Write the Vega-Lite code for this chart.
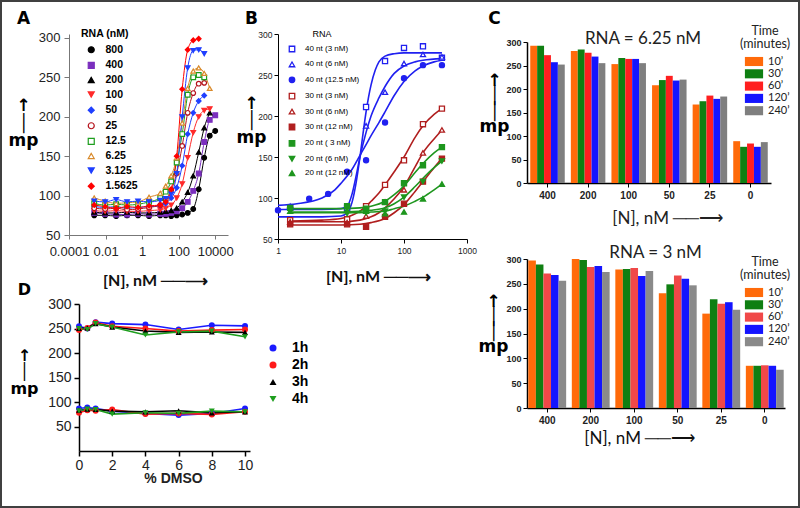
{
"$schema": "https://vega.github.io/schema/vega-lite/v6.json",
"width": 800, "height": 508,
"autosize": "none",
"padding": 0,
"background": "white",
"config": {"view": {"stroke": "#404040", "strokeWidth": 4}, "font": "Liberation Sans", "axis": {"grid": false, "domainColor": "#000", "tickColor": "#000", "labelColor": "#000", "titleColor": "#000", "labelFlush": false, "labelOverlap": false}, "legend": {"padding": 0}},
"title": {"text": "RNA =  6.25 nM", "anchor": "start", "frame": "group", "align": "center", "dx": 643, "offset": -48, "font": "Lato", "fontSize": 17, "fontWeight": "normal", "color": "#222"},
"datasets": {
"A": [
{"rna":"800","conc":0.0024,"mp":75},{"rna":"800","conc":0.0095,"mp":75},{"rna":"800","conc":0.038,"mp":74},{"rna":"800","conc":0.15,"mp":75},{"rna":"800","conc":0.6,"mp":75},{"rna":"800","conc":2.4,"mp":74},{"rna":"800","conc":9.8,"mp":75},{"rna":"800","conc":19.5,"mp":75},{"rna":"800","conc":39,"mp":74},{"rna":"800","conc":78,"mp":75},{"rna":"800","conc":156,"mp":76},{"rna":"800","conc":312,"mp":78},{"rna":"800","conc":625,"mp":83},{"rna":"800","conc":1250,"mp":108},{"rna":"800","conc":2500,"mp":148},{"rna":"800","conc":5000,"mp":176},{"rna":"800","conc":10000,"mp":182},
{"rna":"400","conc":0.0024,"mp":78},{"rna":"400","conc":0.0095,"mp":77},{"rna":"400","conc":0.038,"mp":76},{"rna":"400","conc":0.15,"mp":76},{"rna":"400","conc":0.6,"mp":77},{"rna":"400","conc":2.4,"mp":76},{"rna":"400","conc":9.8,"mp":77},{"rna":"400","conc":19.5,"mp":77},{"rna":"400","conc":39,"mp":78},{"rna":"400","conc":78,"mp":80},{"rna":"400","conc":156,"mp":84},{"rna":"400","conc":312,"mp":92},{"rna":"400","conc":625,"mp":106},{"rna":"400","conc":1250,"mp":128},{"rna":"400","conc":2500,"mp":168},{"rna":"400","conc":5000,"mp":196},{"rna":"400","conc":10000,"mp":202},
{"rna":"200","conc":0.0024,"mp":79},{"rna":"200","conc":0.0095,"mp":78},{"rna":"200","conc":0.038,"mp":78},{"rna":"200","conc":0.15,"mp":79},{"rna":"200","conc":0.6,"mp":78},{"rna":"200","conc":2.4,"mp":78},{"rna":"200","conc":9.8,"mp":79},{"rna":"200","conc":19.5,"mp":80},{"rna":"200","conc":39,"mp":81},{"rna":"200","conc":78,"mp":84},{"rna":"200","conc":156,"mp":92},{"rna":"200","conc":312,"mp":104},{"rna":"200","conc":625,"mp":125},{"rna":"200","conc":1250,"mp":155},{"rna":"200","conc":2500,"mp":186},{"rna":"200","conc":5000,"mp":205},
{"rna":"100","conc":0.0024,"mp":81},{"rna":"100","conc":0.0095,"mp":80},{"rna":"100","conc":0.038,"mp":81},{"rna":"100","conc":0.15,"mp":80},{"rna":"100","conc":0.6,"mp":80},{"rna":"100","conc":2.4,"mp":81},{"rna":"100","conc":9.8,"mp":82},{"rna":"100","conc":19.5,"mp":84},{"rna":"100","conc":39,"mp":88},{"rna":"100","conc":78,"mp":97},{"rna":"100","conc":156,"mp":115},{"rna":"100","conc":312,"mp":148},{"rna":"100","conc":625,"mp":180},{"rna":"100","conc":1250,"mp":200},{"rna":"100","conc":2500,"mp":208},{"rna":"100","conc":5000,"mp":210},
{"rna":"50","conc":0.0024,"mp":86},{"rna":"50","conc":0.0095,"mp":85},{"rna":"50","conc":0.038,"mp":86},{"rna":"50","conc":0.15,"mp":84},{"rna":"50","conc":0.6,"mp":85},{"rna":"50","conc":2.4,"mp":86},{"rna":"50","conc":9.8,"mp":87},{"rna":"50","conc":19.5,"mp":90},{"rna":"50","conc":39,"mp":97},{"rna":"50","conc":78,"mp":110},{"rna":"50","conc":156,"mp":138},{"rna":"50","conc":312,"mp":178},{"rna":"50","conc":625,"mp":205},{"rna":"50","conc":1250,"mp":220},{"rna":"50","conc":2500,"mp":227},
{"rna":"25","conc":0.0024,"mp":84},{"rna":"25","conc":0.0095,"mp":83},{"rna":"25","conc":0.038,"mp":84},{"rna":"25","conc":0.15,"mp":82},{"rna":"25","conc":0.6,"mp":83},{"rna":"25","conc":2.4,"mp":85},{"rna":"25","conc":9.8,"mp":88},{"rna":"25","conc":19.5,"mp":95},{"rna":"25","conc":39,"mp":107},{"rna":"25","conc":78,"mp":128},{"rna":"25","conc":156,"mp":163},{"rna":"25","conc":312,"mp":205},{"rna":"25","conc":625,"mp":230},{"rna":"25","conc":1250,"mp":242},{"rna":"25","conc":2500,"mp":243},
{"rna":"12.5","conc":0.0024,"mp":90},{"rna":"12.5","conc":0.0095,"mp":88},{"rna":"12.5","conc":0.038,"mp":89},{"rna":"12.5","conc":0.15,"mp":88},{"rna":"12.5","conc":0.6,"mp":89},{"rna":"12.5","conc":2.4,"mp":92},{"rna":"12.5","conc":9.8,"mp":97},{"rna":"12.5","conc":19.5,"mp":105},{"rna":"12.5","conc":39,"mp":118},{"rna":"12.5","conc":78,"mp":142},{"rna":"12.5","conc":156,"mp":178},{"rna":"12.5","conc":312,"mp":228},{"rna":"12.5","conc":625,"mp":250},{"rna":"12.5","conc":1250,"mp":253},{"rna":"12.5","conc":2500,"mp":250},
{"rna":"6.25","conc":0.0024,"mp":97},{"rna":"6.25","conc":0.0095,"mp":93},{"rna":"6.25","conc":0.038,"mp":90},{"rna":"6.25","conc":0.15,"mp":91},{"rna":"6.25","conc":0.6,"mp":92},{"rna":"6.25","conc":2.4,"mp":98},{"rna":"6.25","conc":9.8,"mp":103},{"rna":"6.25","conc":19.5,"mp":112},{"rna":"6.25","conc":39,"mp":125},{"rna":"6.25","conc":78,"mp":148},{"rna":"6.25","conc":156,"mp":192},{"rna":"6.25","conc":312,"mp":236},{"rna":"6.25","conc":625,"mp":258},{"rna":"6.25","conc":1250,"mp":262},{"rna":"6.25","conc":2500,"mp":255},{"rna":"6.25","conc":5000,"mp":236},
{"rna":"3.125","conc":0.0024,"mp":93},{"rna":"3.125","conc":0.0095,"mp":92},{"rna":"3.125","conc":0.038,"mp":95},{"rna":"3.125","conc":0.15,"mp":92},{"rna":"3.125","conc":0.6,"mp":93},{"rna":"3.125","conc":2.4,"mp":92},{"rna":"3.125","conc":9.8,"mp":94},{"rna":"3.125","conc":19.5,"mp":96},{"rna":"3.125","conc":39,"mp":102},{"rna":"3.125","conc":78,"mp":128},{"rna":"3.125","conc":156,"mp":200},{"rna":"3.125","conc":312,"mp":262},{"rna":"3.125","conc":625,"mp":284},{"rna":"3.125","conc":1250,"mp":285},{"rna":"3.125","conc":2500,"mp":280},
{"rna":"1.5625","conc":0.0024,"mp":88},{"rna":"1.5625","conc":0.0095,"mp":86},{"rna":"1.5625","conc":0.038,"mp":84},{"rna":"1.5625","conc":0.15,"mp":86},{"rna":"1.5625","conc":0.6,"mp":85},{"rna":"1.5625","conc":2.4,"mp":87},{"rna":"1.5625","conc":9.8,"mp":88},{"rna":"1.5625","conc":19.5,"mp":92},{"rna":"1.5625","conc":39,"mp":108},{"rna":"1.5625","conc":78,"mp":150},{"rna":"1.5625","conc":156,"mp":235},{"rna":"1.5625","conc":312,"mp":285},{"rna":"1.5625","conc":625,"mp":297},{"rna":"1.5625","conc":1250,"mp":299}
],
"Bpts": [
{"probe":"40 nt (3 nM)","conc":1.56,"mp":88},{"probe":"40 nt (3 nM)","conc":12.5,"mp":88},{"probe":"40 nt (3 nM)","conc":25,"mp":211},{"probe":"40 nt (3 nM)","conc":50,"mp":267},{"probe":"40 nt (3 nM)","conc":100,"mp":283},{"probe":"40 nt (3 nM)","conc":200,"mp":285},{"probe":"40 nt (3 nM)","conc":400,"mp":271},
{"probe":"40 nt (6 nM)","conc":1.56,"mp":90},{"probe":"40 nt (6 nM)","conc":12.5,"mp":90},{"probe":"40 nt (6 nM)","conc":25,"mp":188},{"probe":"40 nt (6 nM)","conc":50,"mp":229},{"probe":"40 nt (6 nM)","conc":100,"mp":264},{"probe":"40 nt (6 nM)","conc":200,"mp":275},{"probe":"40 nt (6 nM)","conc":400,"mp":272},
{"probe":"40 nt (12.5 nM)","conc":1,"mp":85},{"probe":"40 nt (12.5 nM)","conc":3.125,"mp":99},{"probe":"40 nt (12.5 nM)","conc":6.25,"mp":105},{"probe":"40 nt (12.5 nM)","conc":12.5,"mp":132},{"probe":"40 nt (12.5 nM)","conc":25,"mp":146},{"probe":"40 nt (12.5 nM)","conc":50,"mp":192},{"probe":"40 nt (12.5 nM)","conc":100,"mp":246},{"probe":"40 nt (12.5 nM)","conc":200,"mp":262},{"probe":"40 nt (12.5 nM)","conc":400,"mp":262},
{"probe":"30 nt (3 nM)","conc":1.56,"mp":73},{"probe":"30 nt (3 nM)","conc":12.5,"mp":74},{"probe":"30 nt (3 nM)","conc":25,"mp":90},{"probe":"30 nt (3 nM)","conc":50,"mp":116},{"probe":"30 nt (3 nM)","conc":100,"mp":146},{"probe":"30 nt (3 nM)","conc":200,"mp":190},{"probe":"30 nt (3 nM)","conc":400,"mp":209},
{"probe":"30 nt (6 nM)","conc":1.56,"mp":71},{"probe":"30 nt (6 nM)","conc":12.5,"mp":70},{"probe":"30 nt (6 nM)","conc":25,"mp":78},{"probe":"30 nt (6 nM)","conc":50,"mp":95},{"probe":"30 nt (6 nM)","conc":100,"mp":110},{"probe":"30 nt (6 nM)","conc":200,"mp":155},{"probe":"30 nt (6 nM)","conc":400,"mp":183},
{"probe":"30 nt (12 nM)","conc":1.56,"mp":68},{"probe":"30 nt (12 nM)","conc":12.5,"mp":68},{"probe":"30 nt (12 nM)","conc":25,"mp":65},{"probe":"30 nt (12 nM)","conc":50,"mp":77},{"probe":"30 nt (12 nM)","conc":100,"mp":93},{"probe":"30 nt (12 nM)","conc":200,"mp":120},{"probe":"30 nt (12 nM)","conc":400,"mp":148},
{"probe":"20 nt ( 3 nM)","conc":1.56,"mp":88},{"probe":"20 nt ( 3 nM)","conc":12.5,"mp":90},{"probe":"20 nt ( 3 nM)","conc":25,"mp":87},{"probe":"20 nt ( 3 nM)","conc":50,"mp":95},{"probe":"20 nt ( 3 nM)","conc":100,"mp":118},{"probe":"20 nt ( 3 nM)","conc":200,"mp":140},{"probe":"20 nt ( 3 nM)","conc":400,"mp":162},
{"probe":"20 nt (6 nM)","conc":1.56,"mp":85},{"probe":"20 nt (6 nM)","conc":12.5,"mp":81},{"probe":"20 nt (6 nM)","conc":25,"mp":82},{"probe":"20 nt (6 nM)","conc":50,"mp":84},{"probe":"20 nt (6 nM)","conc":100,"mp":101},{"probe":"20 nt (6 nM)","conc":200,"mp":120},{"probe":"20 nt (6 nM)","conc":400,"mp":145},
{"probe":"20 nt (12 nM)","conc":1.56,"mp":84},{"probe":"20 nt (12 nM)","conc":12.5,"mp":85},{"probe":"20 nt (12 nM)","conc":25,"mp":84},{"probe":"20 nt (12 nM)","conc":50,"mp":81},{"probe":"20 nt (12 nM)","conc":100,"mp":83},{"probe":"20 nt (12 nM)","conc":200,"mp":99},{"probe":"20 nt (12 nM)","conc":400,"mp":117}
],
"Bfit": [
{"probe":"40 nt (3 nM)","conc":1,"mp":77},{"probe":"40 nt (3 nM)","conc":5,"mp":77},{"probe":"40 nt (3 nM)","conc":10,"mp":78},{"probe":"40 nt (3 nM)","conc":12.5,"mp":82},{"probe":"40 nt (3 nM)","conc":15,"mp":95},{"probe":"40 nt (3 nM)","conc":17.5,"mp":120},{"probe":"40 nt (3 nM)","conc":20,"mp":150},{"probe":"40 nt (3 nM)","conc":22.5,"mp":180},{"probe":"40 nt (3 nM)","conc":25,"mp":205},{"probe":"40 nt (3 nM)","conc":30,"mp":238},{"probe":"40 nt (3 nM)","conc":35,"mp":256},{"probe":"40 nt (3 nM)","conc":40,"mp":266},{"probe":"40 nt (3 nM)","conc":50,"mp":273},{"probe":"40 nt (3 nM)","conc":70,"mp":276},{"probe":"40 nt (3 nM)","conc":100,"mp":277},{"probe":"40 nt (3 nM)","conc":400,"mp":277},
{"probe":"40 nt (6 nM)","conc":1,"mp":86},{"probe":"40 nt (6 nM)","conc":5,"mp":86},{"probe":"40 nt (6 nM)","conc":10,"mp":87},{"probe":"40 nt (6 nM)","conc":12.5,"mp":90},{"probe":"40 nt (6 nM)","conc":15,"mp":105},{"probe":"40 nt (6 nM)","conc":17.5,"mp":128},{"probe":"40 nt (6 nM)","conc":20,"mp":150},{"probe":"40 nt (6 nM)","conc":25,"mp":180},{"probe":"40 nt (6 nM)","conc":30,"mp":200},{"probe":"40 nt (6 nM)","conc":40,"mp":222},{"probe":"40 nt (6 nM)","conc":50,"mp":236},{"probe":"40 nt (6 nM)","conc":70,"mp":252},{"probe":"40 nt (6 nM)","conc":100,"mp":261},{"probe":"40 nt (6 nM)","conc":150,"mp":266},{"probe":"40 nt (6 nM)","conc":200,"mp":268},{"probe":"40 nt (6 nM)","conc":400,"mp":270},
{"probe":"40 nt (12.5 nM)","conc":1,"mp":91},{"probe":"40 nt (12.5 nM)","conc":2,"mp":93},{"probe":"40 nt (12.5 nM)","conc":5,"mp":100},{"probe":"40 nt (12.5 nM)","conc":8,"mp":110},{"probe":"40 nt (12.5 nM)","conc":10,"mp":118},{"probe":"40 nt (12.5 nM)","conc":15,"mp":135},{"probe":"40 nt (12.5 nM)","conc":20,"mp":152},{"probe":"40 nt (12.5 nM)","conc":25,"mp":165},{"probe":"40 nt (12.5 nM)","conc":30,"mp":176},{"probe":"40 nt (12.5 nM)","conc":40,"mp":192},{"probe":"40 nt (12.5 nM)","conc":50,"mp":205},{"probe":"40 nt (12.5 nM)","conc":70,"mp":225},{"probe":"40 nt (12.5 nM)","conc":100,"mp":242},{"probe":"40 nt (12.5 nM)","conc":150,"mp":255},{"probe":"40 nt (12.5 nM)","conc":200,"mp":261},{"probe":"40 nt (12.5 nM)","conc":300,"mp":266},{"probe":"40 nt (12.5 nM)","conc":400,"mp":268},
{"probe":"30 nt (3 nM)","conc":1.56,"mp":72},{"probe":"30 nt (3 nM)","conc":5,"mp":73},{"probe":"30 nt (3 nM)","conc":10,"mp":75},{"probe":"30 nt (3 nM)","conc":15,"mp":79},{"probe":"30 nt (3 nM)","conc":20,"mp":84},{"probe":"30 nt (3 nM)","conc":25,"mp":90},{"probe":"30 nt (3 nM)","conc":30,"mp":96},{"probe":"30 nt (3 nM)","conc":40,"mp":106},{"probe":"30 nt (3 nM)","conc":50,"mp":116},{"probe":"30 nt (3 nM)","conc":70,"mp":132},{"probe":"30 nt (3 nM)","conc":100,"mp":150},{"probe":"30 nt (3 nM)","conc":150,"mp":174},{"probe":"30 nt (3 nM)","conc":200,"mp":188},{"probe":"30 nt (3 nM)","conc":300,"mp":202},{"probe":"30 nt (3 nM)","conc":400,"mp":209},
{"probe":"30 nt (6 nM)","conc":1.56,"mp":71},{"probe":"30 nt (6 nM)","conc":10,"mp":71},{"probe":"30 nt (6 nM)","conc":20,"mp":73},{"probe":"30 nt (6 nM)","conc":30,"mp":77},{"probe":"30 nt (6 nM)","conc":40,"mp":82},{"probe":"30 nt (6 nM)","conc":50,"mp":88},{"probe":"30 nt (6 nM)","conc":70,"mp":99},{"probe":"30 nt (6 nM)","conc":100,"mp":114},{"probe":"30 nt (6 nM)","conc":150,"mp":138},{"probe":"30 nt (6 nM)","conc":200,"mp":155},{"probe":"30 nt (6 nM)","conc":300,"mp":172},{"probe":"30 nt (6 nM)","conc":400,"mp":183},
{"probe":"30 nt (12 nM)","conc":1.56,"mp":67},{"probe":"30 nt (12 nM)","conc":10,"mp":67},{"probe":"30 nt (12 nM)","conc":20,"mp":68},{"probe":"30 nt (12 nM)","conc":30,"mp":70},{"probe":"30 nt (12 nM)","conc":50,"mp":75},{"probe":"30 nt (12 nM)","conc":70,"mp":82},{"probe":"30 nt (12 nM)","conc":100,"mp":92},{"probe":"30 nt (12 nM)","conc":150,"mp":108},{"probe":"30 nt (12 nM)","conc":200,"mp":120},{"probe":"30 nt (12 nM)","conc":300,"mp":137},{"probe":"30 nt (12 nM)","conc":400,"mp":148},
{"probe":"20 nt ( 3 nM)","conc":1.56,"mp":87},{"probe":"20 nt ( 3 nM)","conc":10,"mp":87},{"probe":"20 nt ( 3 nM)","conc":20,"mp":88},{"probe":"20 nt ( 3 nM)","conc":30,"mp":90},{"probe":"20 nt ( 3 nM)","conc":50,"mp":96},{"probe":"20 nt ( 3 nM)","conc":70,"mp":104},{"probe":"20 nt ( 3 nM)","conc":100,"mp":115},{"probe":"20 nt ( 3 nM)","conc":150,"mp":131},{"probe":"20 nt ( 3 nM)","conc":200,"mp":142},{"probe":"20 nt ( 3 nM)","conc":300,"mp":155},{"probe":"20 nt ( 3 nM)","conc":400,"mp":162},
{"probe":"20 nt (6 nM)","conc":1.56,"mp":83},{"probe":"20 nt (6 nM)","conc":10,"mp":83},{"probe":"20 nt (6 nM)","conc":20,"mp":84},{"probe":"20 nt (6 nM)","conc":30,"mp":85},{"probe":"20 nt (6 nM)","conc":50,"mp":88},{"probe":"20 nt (6 nM)","conc":70,"mp":93},{"probe":"20 nt (6 nM)","conc":100,"mp":101},{"probe":"20 nt (6 nM)","conc":150,"mp":114},{"probe":"20 nt (6 nM)","conc":200,"mp":124},{"probe":"20 nt (6 nM)","conc":300,"mp":137},{"probe":"20 nt (6 nM)","conc":400,"mp":145},
{"probe":"20 nt (12 nM)","conc":1.56,"mp":82},{"probe":"20 nt (12 nM)","conc":10,"mp":82},{"probe":"20 nt (12 nM)","conc":20,"mp":82},{"probe":"20 nt (12 nM)","conc":30,"mp":83},{"probe":"20 nt (12 nM)","conc":50,"mp":84},{"probe":"20 nt (12 nM)","conc":70,"mp":87},{"probe":"20 nt (12 nM)","conc":100,"mp":90},{"probe":"20 nt (12 nM)","conc":150,"mp":96},{"probe":"20 nt (12 nM)","conc":200,"mp":101},{"probe":"20 nt (12 nM)","conc":300,"mp":110},{"probe":"20 nt (12 nM)","conc":400,"mp":117}
],
"C6": [
{"n":"400","t":"10’","mp":292},{"n":"400","t":"30’","mp":292},{"n":"400","t":"60’","mp":272},{"n":"400","t":"120’","mp":257},{"n":"400","t":"240’","mp":252},
{"n":"200","t":"10’","mp":281},{"n":"200","t":"30’","mp":284},{"n":"200","t":"60’","mp":277},{"n":"200","t":"120’","mp":269},{"n":"200","t":"240’","mp":255},
{"n":"100","t":"10’","mp":253},{"n":"100","t":"30’","mp":266},{"n":"100","t":"60’","mp":264},{"n":"100","t":"120’","mp":264},{"n":"100","t":"240’","mp":255},
{"n":"50","t":"10’","mp":208},{"n":"50","t":"30’","mp":219},{"n":"50","t":"60’","mp":228},{"n":"50","t":"120’","mp":218},{"n":"50","t":"240’","mp":220},
{"n":"25","t":"10’","mp":167},{"n":"25","t":"30’","mp":174},{"n":"25","t":"60’","mp":186},{"n":"25","t":"120’","mp":179},{"n":"25","t":"240’","mp":184},
{"n":"0","t":"10’","mp":89},{"n":"0","t":"30’","mp":77},{"n":"0","t":"60’","mp":84},{"n":"0","t":"120’","mp":77},{"n":"0","t":"240’","mp":87}
],
"C3": [
{"n":"400","t":"10’","mp":297},{"n":"400","t":"30’","mp":289},{"n":"400","t":"60’","mp":271},{"n":"400","t":"120’","mp":268},{"n":"400","t":"240’","mp":256},
{"n":"200","t":"10’","mp":300},{"n":"200","t":"30’","mp":298},{"n":"200","t":"60’","mp":284},{"n":"200","t":"120’","mp":286},{"n":"200","t":"240’","mp":274},
{"n":"100","t":"10’","mp":279},{"n":"100","t":"30’","mp":280},{"n":"100","t":"60’","mp":282},{"n":"100","t":"120’","mp":266},{"n":"100","t":"240’","mp":276},
{"n":"50","t":"10’","mp":231},{"n":"50","t":"30’","mp":249},{"n":"50","t":"60’","mp":267},{"n":"50","t":"120’","mp":260},{"n":"50","t":"240’","mp":247},
{"n":"25","t":"10’","mp":190},{"n":"25","t":"30’","mp":219},{"n":"25","t":"60’","mp":210},{"n":"25","t":"120’","mp":213},{"n":"25","t":"240’","mp":198},
{"n":"0","t":"10’","mp":85},{"n":"0","t":"30’","mp":85},{"n":"0","t":"60’","mp":86},{"n":"0","t":"120’","mp":85},{"n":"0","t":"240’","mp":77}
],
"D": [
{"time":"1h","level":"hi","dmso":0,"mp":254.7},{"time":"1h","level":"hi","dmso":0.5,"mp":250},{"time":"1h","level":"hi","dmso":1,"mp":263},{"time":"1h","level":"hi","dmso":2,"mp":260},{"time":"1h","level":"hi","dmso":4,"mp":258},{"time":"1h","level":"hi","dmso":6,"mp":248},{"time":"1h","level":"hi","dmso":8,"mp":256.7},{"time":"1h","level":"hi","dmso":10,"mp":255.3},
{"time":"2h","level":"hi","dmso":0,"mp":246.7},{"time":"2h","level":"hi","dmso":0.5,"mp":251},{"time":"2h","level":"hi","dmso":1,"mp":262},{"time":"2h","level":"hi","dmso":2,"mp":254.7},{"time":"2h","level":"hi","dmso":4,"mp":250},{"time":"2h","level":"hi","dmso":6,"mp":244.7},{"time":"2h","level":"hi","dmso":8,"mp":246.7},{"time":"2h","level":"hi","dmso":10,"mp":248},
{"time":"3h","level":"hi","dmso":0,"mp":250},{"time":"3h","level":"hi","dmso":0.5,"mp":251},{"time":"3h","level":"hi","dmso":1,"mp":260},{"time":"3h","level":"hi","dmso":2,"mp":253},{"time":"3h","level":"hi","dmso":4,"mp":245},{"time":"3h","level":"hi","dmso":6,"mp":242},{"time":"3h","level":"hi","dmso":8,"mp":243},{"time":"3h","level":"hi","dmso":10,"mp":242},
{"time":"4h","level":"hi","dmso":0,"mp":250},{"time":"4h","level":"hi","dmso":0.5,"mp":248},{"time":"4h","level":"hi","dmso":1,"mp":260},{"time":"4h","level":"hi","dmso":2,"mp":253},{"time":"4h","level":"hi","dmso":4,"mp":236.7},{"time":"4h","level":"hi","dmso":6,"mp":243},{"time":"4h","level":"hi","dmso":8,"mp":244.7},{"time":"4h","level":"hi","dmso":10,"mp":233},
{"time":"1h","level":"lo","dmso":0,"mp":86.7},{"time":"1h","level":"lo","dmso":0.5,"mp":88.7},{"time":"1h","level":"lo","dmso":1,"mp":86.7},{"time":"1h","level":"lo","dmso":2,"mp":81.3},{"time":"1h","level":"lo","dmso":4,"mp":76.7},{"time":"1h","level":"lo","dmso":6,"mp":73.3},{"time":"1h","level":"lo","dmso":8,"mp":76.7},{"time":"1h","level":"lo","dmso":10,"mp":86.7},
{"time":"2h","level":"lo","dmso":0,"mp":78},{"time":"2h","level":"lo","dmso":0.5,"mp":83.3},{"time":"2h","level":"lo","dmso":1,"mp":82},{"time":"2h","level":"lo","dmso":2,"mp":84.7},{"time":"2h","level":"lo","dmso":4,"mp":75.3},{"time":"2h","level":"lo","dmso":6,"mp":76.7},{"time":"2h","level":"lo","dmso":8,"mp":74.7},{"time":"2h","level":"lo","dmso":10,"mp":80},
{"time":"3h","level":"lo","dmso":0,"mp":83.3},{"time":"3h","level":"lo","dmso":0.5,"mp":85.3},{"time":"3h","level":"lo","dmso":1,"mp":84.7},{"time":"3h","level":"lo","dmso":2,"mp":81.3},{"time":"3h","level":"lo","dmso":4,"mp":80},{"time":"3h","level":"lo","dmso":6,"mp":82},{"time":"3h","level":"lo","dmso":8,"mp":78},{"time":"3h","level":"lo","dmso":10,"mp":80},
{"time":"4h","level":"lo","dmso":0,"mp":82},{"time":"4h","level":"lo","dmso":0.5,"mp":85.3},{"time":"4h","level":"lo","dmso":1,"mp":84.7},{"time":"4h","level":"lo","dmso":2,"mp":75.3},{"time":"4h","level":"lo","dmso":4,"mp":78},{"time":"4h","level":"lo","dmso":6,"mp":76.7},{"time":"4h","level":"lo","dmso":8,"mp":81.3},{"time":"4h","level":"lo","dmso":10,"mp":80}
]
},
"resolve": {"scale": {"x": "independent", "y": "independent", "color": "independent", "stroke": "independent", "fill": "independent", "shape": "independent", "xOffset": "independent"}, "axis": {"x": "independent", "y": "independent"}, "legend": {"color": "independent", "stroke": "independent", "fill": "independent", "shape": "independent"}},
"layer": [
{
"data": {"name": "A"},
"encoding": {
"x": {"field": "conc", "type": "quantitative", "scale": {"type": "log", "domain": [0.0001, 50000], "range": [69, 228], "nice": false},
 "axis": {"orient": "bottom", "offset": -273, "values": [0.0001, 0.01, 1, 100, 10000], "format": "~g", "labelFontSize": 13, "labelPadding": 6, "tickSize": 4, "domainColor": "#777", "tickColor": "#777", "labelColor": "#222",
  "title": "[N], nM ──⟶", "titleFont": "Lato", "titleFontSize": 16, "titleFontWeight": "bold", "titleX": 155, "titleY": 50, "titleBaseline": "alphabetic", "titleColor": "#111"}},
"y": {"field": "mp", "type": "quantitative", "scale": {"domain": [50, 305], "range": [235, 34], "nice": false, "zero": false},
 "axis": {"orient": "left", "offset": -69, "values": [50, 100, 150, 200, 250, 300], "labelFontSize": 13, "labelPadding": 4, "tickSize": 5, "domainColor": "#777", "tickColor": "#777", "labelColor": "#222",
  "title": ["A", "\u2800", "\u2800", "\u2800", "\u2800", "↑", "│", "mp"], "titleAngle": 0, "titleX": -46, "titleY": 10, "titleAlign": "center", "titleBaseline": "top", "titleFont": "DejaVu Sans", "titleFontSize": 17, "titleFontWeight": "bold", "titleLineHeight": 17.5}}
},
"layer": [
{"mark": {"type": "line", "interpolate": "monotone", "strokeWidth": 1},
 "encoding": {"stroke": {"field": "rna", "type": "nominal", "scale": {"range": ["#FF0000","#FF2A2A","#1E9E1E","#000000","#B5121B","#1F3FFF","#7B2FBE","#1F3FFF","#D98A2B","#000000"]}, "legend": null}}},
{"mark": {"type": "point", "size": 22, "strokeWidth": 1.2, "opacity": 1},
 "encoding": {
  "color": {"field": "rna", "type": "nominal", "scale": {"domain": ["800","400","200","100","50","25","12.5","6.25","3.125","1.5625"], "range": ["#000000","#7B2FBE","#000000","#FF2A2A","#1F3FFF","#B5121B","#1E9E1E","#D98A2B","#1F3FFF","#FF0000"]},
   "legend": {"title": "RNA (nM)", "orient": "none", "legendX": 81, "legendY": 29, "padding": 0, "titleFontSize": 10.5, "titleFontWeight": "bold", "titlePadding": 5, "labelFontSize": 10.5, "labelFontWeight": "bold", "labelOffset": 9, "symbolSize": 36, "symbolStrokeWidth": 1.2, "symbolOffset": 5, "rowPadding": 3.6}},
  "fill": {"field": "rna", "type": "nominal", "scale": {"domain": ["800","400","200","100","50","25","12.5","6.25","3.125","1.5625"], "range": ["#000000","#7B2FBE","#000000","#FF2A2A","#1F3FFF","#FFFFFF","#FFFFFF","#FFFFFF","#1F3FFF","#FF0000"]}, "legend": null},
  "shape": {"field": "rna", "type": "nominal", "scale": {"domain": ["800","400","200","100","50","25","12.5","6.25","3.125","1.5625"], "range": ["circle","square","triangle-up","triangle-down","diamond","circle","square","triangle-up","triangle-down","diamond"]}, "legend": null}
 }}
]
},
{
"encoding": {
"x": {"field": "conc", "type": "quantitative", "scale": {"type": "log", "domain": [1, 1000], "range": [278, 467], "nice": false},
 "axis": {"orient": "bottom", "offset": -269, "values": [1, 10, 100, 1000], "format": "~g", "labelFontSize": 8.5, "labelPadding": 3, "tickSize": 4, "labelColor": "#222",
  "title": "[N], nM ──⟶", "titleFont": "Lato", "titleFontSize": 16, "titleFontWeight": "bold", "titleX": 378, "titleY": 42, "titleBaseline": "alphabetic", "titleColor": "#111"}},
"y": {"field": "mp", "type": "quantitative", "scale": {"domain": [50, 300], "range": [239, 34], "nice": false, "zero": false},
 "axis": {"orient": "left", "offset": -278, "values": [50, 100, 150, 200, 250, 300], "labelFontSize": 8.5, "labelPadding": 2, "tickSize": 4, "labelColor": "#222",
  "title": ["B", "\u2800", "\u2800", "\u2800", "\u2800", "↑", "│", "mp"], "titleAngle": 0, "titleX": -27, "titleY": 10, "titleAlign": "center", "titleBaseline": "top", "titleFont": "DejaVu Sans", "titleFontSize": 17, "titleFontWeight": "bold", "titleLineHeight": 17}}
},
"layer": [
{"data": {"name": "Bfit"}, "mark": {"type": "line", "interpolate": "monotone", "strokeWidth": 1.6},
 "encoding": {"stroke": {"field": "probe", "type": "nominal", "scale": {"range": ["#1E961E","#1E961E","#1E961E","#B01E1E","#B01E1E","#B01E1E","#2020F0","#2020F0","#2020F0"]}, "legend": null}}},
{"data": {"name": "Bpts"}, "mark": {"type": "point", "size": 26, "strokeWidth": 1.3, "opacity": 1},
 "encoding": {
  "color": {"field": "probe", "type": "nominal", "scale": {"domain": ["40 nt (3 nM)","40 nt (6 nM)","40 nt (12.5 nM)","30 nt (3 nM)","30 nt (6 nM)","30 nt (12 nM)","20 nt ( 3 nM)","20 nt (6 nM)","20 nt (12 nM)"], "range": ["#2020F0","#2020F0","#2020F0","#B01E1E","#B01E1E","#B01E1E","#1E961E","#1E961E","#1E961E"]},
   "legend": {"title": "RNA", "orient": "none", "legendX": 285, "legendY": 30, "padding": 0, "titleFontSize": 9, "titleFontWeight": "normal", "titleAnchor": "middle", "titlePadding": 6, "labelFontSize": 8, "labelOffset": 9, "symbolSize": 30, "symbolStrokeWidth": 1.3, "symbolOffset": 3, "rowPadding": 4.4}},
  "fill": {"field": "probe", "type": "nominal", "scale": {"domain": ["40 nt (3 nM)","40 nt (6 nM)","40 nt (12.5 nM)","30 nt (3 nM)","30 nt (6 nM)","30 nt (12 nM)","20 nt ( 3 nM)","20 nt (6 nM)","20 nt (12 nM)"], "range": ["#FFFFFF","#FFFFFF","#2020F0","#FFFFFF","#FFFFFF","#B01E1E","#1E961E","#1E961E","#1E961E"]}, "legend": null},
  "shape": {"field": "probe", "type": "nominal", "scale": {"domain": ["40 nt (3 nM)","40 nt (6 nM)","40 nt (12.5 nM)","30 nt (3 nM)","30 nt (6 nM)","30 nt (12 nM)","20 nt ( 3 nM)","20 nt (6 nM)","20 nt (12 nM)"], "range": ["square","triangle-up","circle","square","triangle-up","square","square","triangle-down","triangle-up"]}, "legend": null}
 }}
]
},
{
"data": {"name": "C6"},
"mark": {"type": "bar"},
"encoding": {
"x": {"field": "n", "type": "nominal", "sort": ["400","200","100","50","25","0"], "scale": {"range": [527, 771], "paddingInner": 0.15, "paddingOuter": 0.08},
 "axis": {"orient": "bottom", "offset": -325, "labelAngle": 0, "labelFontWeight": "bold", "labelFontSize": 10, "labelPadding": 3, "tickSize": 4, "domainWidth": 1.5, "labelColor": "#222",
  "title": ["[N], nM ──⟶", "\u2800", "RNA = 3 nM\u2800\u2800"], "titleFont": "Lato", "titleFontSize": 17, "titleFontWeight": "normal", "titleLineHeight": 17, "titleX": 667, "titleY": 40, "titleBaseline": "alphabetic", "titleColor": "#222"}},
"xOffset": {"field": "t", "type": "nominal", "sort": ["10’","30’","60’","120’","240’"], "scale": {"paddingInner": 0, "paddingOuter": 0}},
"y": {"field": "mp", "type": "quantitative", "scale": {"domain": [0, 300], "range": [183, 42], "nice": false},
 "axis": {"orient": "left", "offset": -527, "values": [0, 50, 100, 150, 200, 250, 300], "labelFontWeight": "bold", "labelFontSize": 9, "labelPadding": 2, "tickSize": 4, "domainWidth": 1.5, "labelColor": "#222",
  "title": ["C", "\u2800", "\u2800", "\u2800", "↑", "│", "│", "mp"], "titleAngle": 0, "titleX": -33, "titleY": 10, "titleAlign": "center", "titleBaseline": "top", "titleFont": "DejaVu Sans", "titleFontSize": 17, "titleFontWeight": "bold", "titleLineHeight": 15.5}},
"color": {"field": "t", "type": "nominal", "scale": {"domain": ["10’","30’","60’","120’","240’"], "range": ["#FF6A0A","#0F7F12","#FF1F1F","#1414FF","#7F7F7F"]},
 "legend": {"title": ["Time", "(minutes)"], "orient": "none", "legendX": 740, "legendY": 25, "padding": 0, "titleFont": "Lato", "titleFontSize": 12.5, "titleFontWeight": "normal", "titleAnchor": "middle", "titleLineHeight": 13, "titlePadding": 4, "titleColor": "#222", "labelFont": "Lato", "labelFontSize": 11, "labelColor": "#222", "labelOffset": 7, "symbolType": "M-1.3,-0.65H1.3V0.65H-1.3Z", "symbolSize": 196, "symbolStrokeWidth": 0, "symbolOffset": 6, "rowPadding": 0.3}}
}
},
{
"data": {"name": "C3"},
"mark": {"type": "bar"},
"encoding": {
"x": {"field": "n", "type": "nominal", "sort": ["400","200","100","50","25","0"], "scale": {"range": [527, 785], "paddingInner": 0.13, "paddingOuter": 0.03},
 "axis": {"orient": "bottom", "offset": -100, "labelAngle": 0, "labelFontWeight": "bold", "labelFontSize": 10, "labelPadding": 3, "tickSize": 4, "domainWidth": 1.5, "labelColor": "#222",
  "title": "[N], nM ──⟶", "titleFont": "Lato", "titleFontSize": 17, "titleFontWeight": "normal", "titleX": 639, "titleY": 35, "titleBaseline": "alphabetic", "titleColor": "#111"}},
"xOffset": {"field": "t", "type": "nominal", "sort": ["10’","30’","60’","120’","240’"], "scale": {"paddingInner": 0, "paddingOuter": 0}},
"y": {"field": "mp", "type": "quantitative", "scale": {"domain": [0, 300], "range": [408, 259], "nice": false},
 "axis": {"orient": "left", "offset": -527, "values": [0, 50, 100, 150, 200, 250, 300], "labelFontWeight": "bold", "labelFontSize": 9, "labelPadding": 2, "tickSize": 4, "domainWidth": 1.5, "labelColor": "#222",
  "title": ["↑", "│", "│", "mp"], "titleAngle": 0, "titleX": -34, "titleY": 293, "titleAlign": "center", "titleBaseline": "top", "titleFont": "DejaVu Sans", "titleFontSize": 17, "titleFontWeight": "bold", "titleLineHeight": 15}},
"color": {"field": "t", "type": "nominal", "scale": {"domain": ["10’","30’","60’","120’","240’"], "range": ["#FF6A0A","#0F7F12","#F04848","#1414FF","#8A8A8A"]},
 "legend": {"title": ["Time", "(minutes)"], "orient": "none", "legendX": 740, "legendY": 256, "padding": 0, "titleFont": "Lato", "titleFontSize": 12.5, "titleFontWeight": "normal", "titleAnchor": "middle", "titleLineHeight": 13, "titlePadding": 4, "titleColor": "#222", "labelFont": "Lato", "labelFontSize": 11, "labelColor": "#222", "labelOffset": 7, "symbolType": "M-1.3,-0.65H1.3V0.65H-1.3Z", "symbolSize": 196, "symbolStrokeWidth": 0, "symbolOffset": 6, "rowPadding": 0.3}}
}
},
{
"data": {"name": "D"},
"encoding": {
"x": {"field": "dmso", "type": "quantitative", "scale": {"domain": [0, 10.3], "range": [79, 250], "nice": false},
 "axis": {"orient": "bottom", "offset": -57, "values": [0, 2, 4, 6, 8, 10], "labelFontSize": 14, "labelPadding": 2, "tickSize": 5, "domainWidth": 1.5, "tickWidth": 1.5, "labelColor": "#222",
  "title": "% DMSO", "titleFontSize": 14, "titleFontWeight": "bold", "titleX": 173, "titleY": 31, "titleBaseline": "alphabetic", "titleColor": "#222"}},
"y": {"field": "mp", "type": "quantitative", "scale": {"domain": [0, 300], "range": [451, 304], "nice": false},
 "axis": {"orient": "left", "offset": -79, "values": [50, 100, 150, 200, 250, 300], "labelFontSize": 14, "labelPadding": 3, "tickSize": 5, "domainWidth": 1.5, "tickWidth": 1.5, "labelColor": "#222",
  "title": ["D", "\u2800", "\u2800", "\u2800", "↑", "│", "mp"], "titleAngle": 0, "titleX": -55, "titleY": 281, "titleAlign": "center", "titleBaseline": "top", "titleFont": "DejaVu Sans", "titleFontSize": 16, "titleFontWeight": "bold", "titleLineHeight": 16.5}}
},
"layer": [
{"mark": {"type": "line", "strokeWidth": 1.6},
 "encoding": {"detail": {"field": "level"}, "stroke": {"field": "time", "type": "nominal", "scale": {"range": ["#1A1AFF","#FF1A1A","#000000","#1E9E1E"]}, "legend": null}}},
{"mark": {"type": "point", "size": 36, "strokeWidth": 1, "opacity": 1, "filled": true},
 "encoding": {
  "color": {"field": "time", "type": "nominal", "scale": {"domain": ["1h","2h","3h","4h"], "range": ["#1A1AFF","#FF1A1A","#000000","#1E9E1E"]},
   "legend": {"title": null, "orient": "none", "legendX": 260, "legendY": 341, "padding": 0, "labelFontSize": 14, "labelFontWeight": "bold", "labelOffset": 12, "symbolSize": 49, "symbolStrokeWidth": 1, "symbolOffset": 6, "rowPadding": 3}},
  "shape": {"field": "time", "type": "nominal", "scale": {"domain": ["1h","2h","3h","4h"], "range": ["circle","circle","triangle-up","triangle-down"]}, "legend": null}
 }}
]
}
]
}
